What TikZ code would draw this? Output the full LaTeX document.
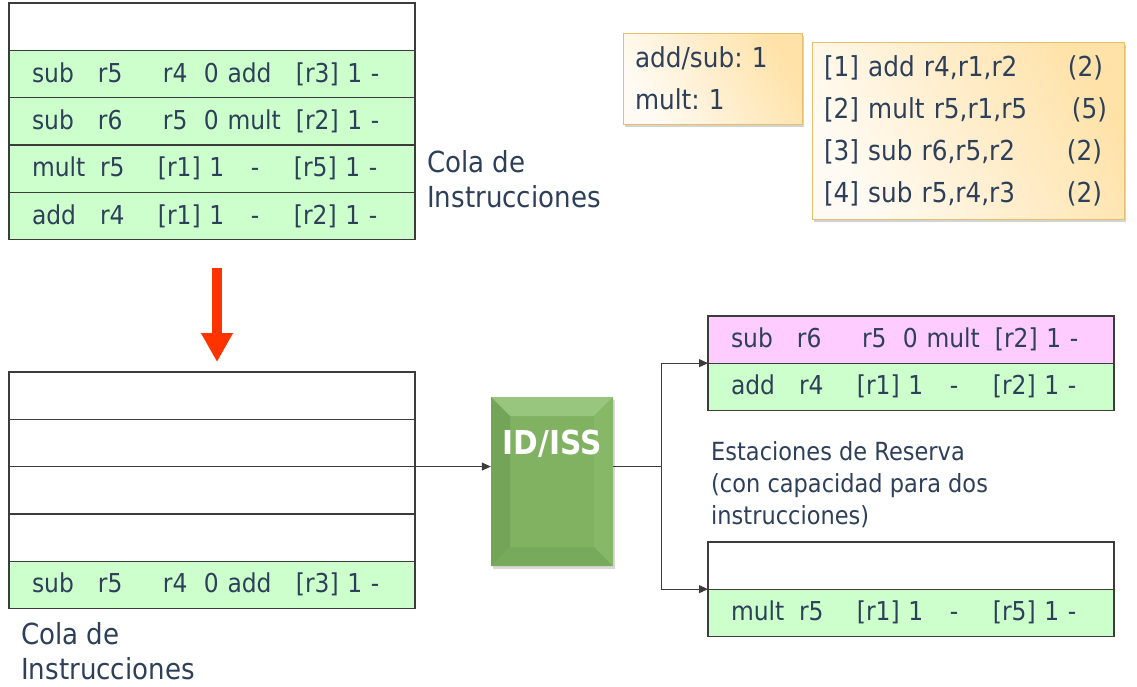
\documentclass[tikz,border=0pt]{standalone}
\usepackage{fontspec}
\setmainfont{DejaVu Sans}[FakeStretch=0.9]
\usetikzlibrary{positioning,arrows.meta,shadows}
\frenchspacing

\definecolor{txt}{RGB}{46,64,89}
\definecolor{rowgreen}{RGB}{204,255,204}
\definecolor{rowpink}{RGB}{255,204,255}
\definecolor{edge}{RGB}{60,60,60}
\definecolor{downred}{RGB}{255,51,0}
\definecolor{issface}{RGB}{128,178,98}
\definecolor{isstop}{RGB}{152,198,126}
\definecolor{issleft}{RGB}{116,164,88}
\definecolor{issright}{RGB}{134,184,104}
\definecolor{issbot}{RGB}{120,170,92}
\definecolor{creamlo}{RGB}{255,251,244}
\definecolor{creamhi}{RGB}{255,226,168}
\definecolor{creamedge}{RGB}{232,190,106}

% fixed columns inside one queue entry
\newcommand{\oprow}[5]{\makebox[66pt][l]{#1}\makebox[65pt][l]{#2}\makebox[41pt][l]{#3}\makebox[92pt][l]{#4}#5}
\newcommand{\ldrow}[5]{\makebox[68pt][l]{#1}\makebox[58pt][l]{#2}\makebox[93pt][l]{#3}\makebox[43pt][l]{#4}#5}

\begin{document}
\begin{tikzpicture}[%
    x=1pt,
    y=-1pt,
    row/.style={
      rectangle,
      draw=edge,
      line width=1.3pt,
      fill=white,
      minimum width=406pt,
      minimum height=47.3pt,
      inner xsep=23pt,
      inner ysep=0pt,
      outer sep=0pt,
      text width=360pt,
      align=left,
      text=txt,
      font=\fontsize{26}{30}\selectfont
    },
    lbl/.style={
      text=txt,
      align=left,
      inner sep=0pt,
      anchor=west
    },
    note/.style={
      rectangle,
      draw=creamedge,
      line width=1pt,
      left color=creamlo,
      right color=creamhi,
      shading angle=120,
      drop shadow={shadow xshift=2pt, shadow yshift=-3pt, opacity=0.35},
      text=txt,
      align=left,
      inner xsep=12pt,
      font=\fontsize{27.5}{42}\selectfont
    },
    iss/.style={
      rectangle,
      minimum width=122pt,
      minimum height=169pt,
      inner sep=0pt,
      fill=issface,
      drop shadow={shadow xshift=2pt, shadow yshift=-3pt, opacity=0.3},
      path picture={
        \coordinate (nw) at (path picture bounding box.north west);
        \coordinate (ne) at (path picture bounding box.north east);
        \coordinate (sw) at (path picture bounding box.south west);
        \coordinate (se) at (path picture bounding box.south east);
        \fill[isstop] (nw) -- (ne) -- ([shift={(-19pt,-19pt)}]ne) -- ([shift={(19pt,-19pt)}]nw) -- cycle;
        \fill[issleft] (nw) -- ([shift={(19pt,-19pt)}]nw) -- ([shift={(19pt,19pt)}]sw) -- (sw) -- cycle;
        \fill[issright] (ne) -- ([shift={(-19pt,-19pt)}]ne) -- ([shift={(-19pt,19pt)}]se) -- (se) -- cycle;
        \fill[issbot] (sw) -- ([shift={(19pt,19pt)}]sw) -- ([shift={(-19pt,19pt)}]se) -- (se) -- cycle;
      }
    },
    link/.style={
      draw=edge,
      line width=1pt,
      -{Triangle[length=9pt,width=8pt]}
    },
  ]
    \useasboundingbox (0,0) rectangle (1137,686);

    % instruction queue before
    \node[row] (q0) at (212,26.7) {};
    \node[row, fill=rowgreen, below=0pt of q0] (q1) {\oprow{sub}{r5}{r4}{0 add}{[r3] 1 -}};
    \node[row, fill=rowgreen, below=0pt of q1] (q2) {\oprow{sub}{r6}{r5}{0 mult}{[r2] 1 -}};
    \node[row, fill=rowgreen, below=0pt of q2] (q3) {\ldrow{mult}{r5}{[r1] 1}{-}{[r5] 1 -}};
    \node[row, fill=rowgreen, below=0pt of q3] (q4) {\ldrow{add}{r4}{[r1] 1}{-}{[r2] 1 -}};
    \node[lbl, font=\fontsize{29}{35}\selectfont] (qlabel) at (427,179.5) {Cola de\\Instrucciones};

    \coordinate (down1) at (217,268);
    \coordinate (down2) at (217,362);
    \draw[downred, line width=10pt, -{Triangle[length=29pt,width=30pt]}] (down1) -- (down2);

    % instruction queue after
    \node[row] (b0) at (212,395.6) {};
    \node[row, below=0pt of b0] (b1) {};
    \node[row, below=0pt of b1] (b2) {};
    \node[row, below=0pt of b2] (b3) {};
    \node[row, fill=rowgreen, below=0pt of b3] (b4) {\oprow{sub}{r5}{r4}{0 add}{[r3] 1 -}};
    \node[lbl, font=\fontsize{29}{35}\selectfont] (blabel) at (21,651.5) {Cola de\\Instrucciones};

    % decode / issue
    \node[iss] (isu) at (552,481.5) {};
    \node[text=white, font=\fontsize{33}{36}\selectfont\bfseries, inner sep=0pt] (isutext) at ([yshift=-47pt]isu.north) {ID/ISS};

    % reservation stations
    \node[row, fill=rowpink] (r0) at (911,339.5) {\oprow{sub}{r6}{r5}{0 mult}{[r2] 1 -}};
    \node[row, fill=rowgreen, below=0pt of r0] (r1) {\ldrow{add}{r4}{[r1] 1}{-}{[r2] 1 -}};
    \node[lbl, font=\fontsize{25}{32}\selectfont] (rlabel) at (711,485) {Estaciones de Reserva\\(con capacidad para dos\\instrucciones)};
    \node[row] (s0) at (911,565.5) {};
    \node[row, fill=rowgreen, below=0pt of s0] (s1) {\ldrow{mult}{r5}{[r1] 1}{-}{[r5] 1 -}};

    \draw[link] (b1.south east) -- (b1.south east -| isu.west);
    \draw[draw=edge, line width=1pt] (isu.east |- b1.south east) -- ++(48pt,0) coordinate (fork);
    \draw[link] (fork) |- (r0.south west);
    \draw[link] (fork) |- (s0.south west);

    % units and latencies
    \node[note, minimum width=179pt, minimum height=91pt, text width=155pt] (units) at (712.5,78.5) {add/sub: 1\\mult: 1};
    \node[note, minimum width=312pt, minimum height=177pt, text width=288pt] (code) at (968,130.5)
      {\makebox[244pt][l]{[1] add r4,r1,r2}(2)\\
       \makebox[248pt][l]{[2] mult r5,r1,r5}(5)\\
       \makebox[243pt][l]{[3] sub r6,r5,r2}(2)\\
       \makebox[243pt][l]{[4] sub r5,r4,r3}(2)};
\end{tikzpicture}
\end{document}
